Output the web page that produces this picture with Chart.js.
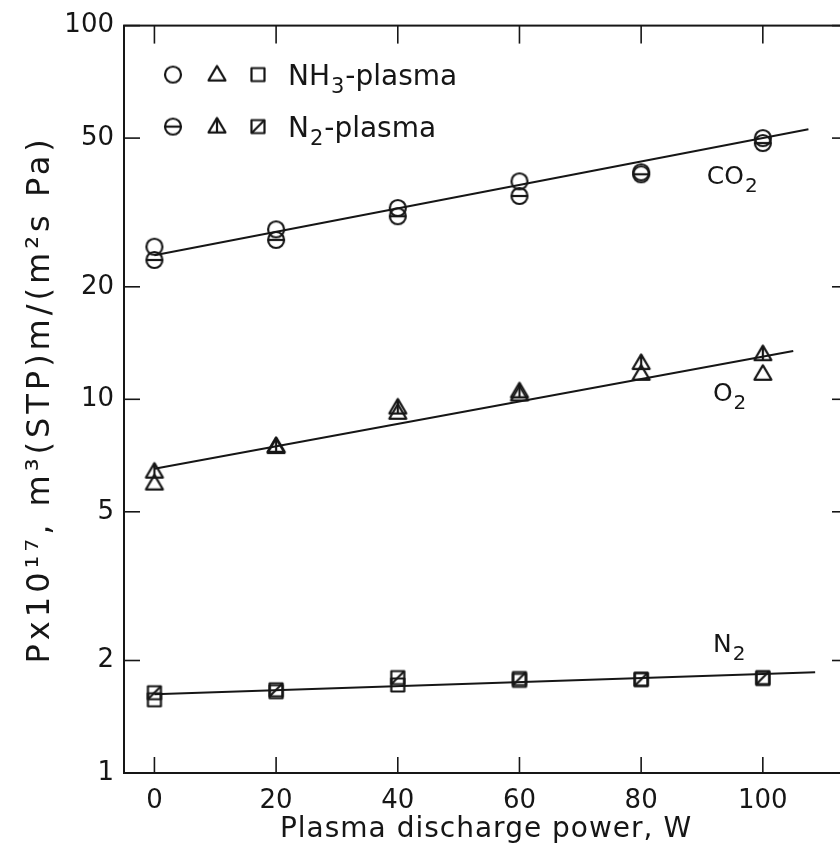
<!DOCTYPE html>
<html><head><meta charset="utf-8">
<script src="https://cdn.jsdelivr.net/npm/chart.js@4.4.0/dist/chart.umd.min.js"></script>
<style>
html,body{margin:0;padding:0;background:#fff;overflow:hidden;width:840px;height:847px}
#wrap{position:relative;width:862px;height:847px}
</style></head><body>
<div id="wrap"><canvas id="c" width="862" height="847"></canvas></div>
<script>
// ---- data ----
const powerW = [0, 20, 40, 60, 80, 100];
const yTickValues = [1, 2, 5, 10, 20, 50, 100];
const co2NH3 = [25.6, 28.5, 32.5, 38.3, 40.5, 50.0];
const co2N2  = [23.6, 26.7, 30.9, 35.0, 40.0, 48.5];
const o2NH3  = [5.95, 7.45, 9.2, 10.3, 11.7, 11.7];
const o2N2   = [6.4, 7.5, 9.5, 10.5, 12.5, 13.2];
const n2NH3  = [1.57, 1.65, 1.72, 1.77, 1.78, 1.79];
const n2N2   = [1.64, 1.67, 1.80, 1.79, 1.78, 1.80];
const co2FitX = [0, 107.5], co2FitY = [24.3, 52.8];
const o2FitX  = [0, 105],   o2FitY  = [6.52, 13.47];
const n2FitX  = [0, 108.6], n2FitY  = [1.625, 1.861];

const INK = '#161616';
const FONT = '"DejaVu Sans", sans-serif';

function marker(shape, mark, size) {
  const s = 26, c = document.createElement('canvas');
  c.width = s; c.height = s;
  const g = c.getContext('2d'), m = s / 2;
  g.strokeStyle = INK; g.lineWidth = 2.2; g.lineJoin = 'round';
  if (shape === 'circle') {
    g.beginPath(); g.arc(m, m, size / 2, 0, 2 * Math.PI); g.stroke();
    if (mark) { g.beginPath(); g.moveTo(m - size / 2, m); g.lineTo(m + size / 2, m); g.stroke(); }
  } else if (shape === 'tri') {
    const h = size * 0.85;
    g.beginPath(); g.moveTo(m, m - h * 0.6); g.lineTo(m + size / 2, m + h * 0.4); g.lineTo(m - size / 2, m + h * 0.4); g.closePath(); g.stroke();
    if (mark) { g.beginPath(); g.moveTo(m, m - h * 0.6); g.lineTo(m, m + h * 0.4); g.stroke(); }
  } else {
    g.strokeRect(m - size / 2, m - size / 2, size, size);
    if (mark) { g.beginPath(); g.moveTo(m - size / 2, m + size / 2); g.lineTo(m + size / 2, m - size / 2); g.stroke(); }
  }
  return c;
}
const mk = {
  cO: marker('circle', false, 16), cN: marker('circle', true, 16),
  tO: marker('tri', false, 17),    tN: marker('tri', true, 17),
  sO: marker('sq', false, 13),     sN: marker('sq', true, 13)
};

const pts = (ys) => powerW.map((x, i) => ({x, y: ys[i]}));
const fit = (xs, ys) => xs.map((x, i) => ({x, y: ys[i]}));

function scatterDs(label, ys, style) {
  return {type: 'scatter', label, data: pts(ys), pointStyle: style, pointRadius: 9, order: 1, showLine: false};
}
function lineDs(label, xs, ys) {
  return {type: 'line', label, data: fit(xs, ys), borderColor: INK, borderWidth: 2, pointRadius: 0, fill: false, order: 5, tension: 0};
}

class SpacedLog extends Chart.LogarithmicScale {
  drawTitle() { const c = this.ctx; c.save(); c.letterSpacing = '4px'; super.drawTitle(); c.restore(); }
}
SpacedLog.id = 'spacedLog';
SpacedLog.defaults = Chart.LogarithmicScale.defaults;
Chart.register(SpacedLog);

class SpacedLinear extends Chart.LinearScale {
  drawTitle() { const c = this.ctx; c.save(); c.letterSpacing = '1px'; super.drawTitle(); c.restore(); }
}
SpacedLinear.id = 'spacedLinear';
SpacedLinear.defaults = Chart.LinearScale.defaults;
Chart.register(SpacedLinear);

const decor = {
  id: 'decor',
  afterDraw(chart) {
    const {ctx, chartArea: a, scales: {x, y}} = chart;
    ctx.save();
    ctx.strokeStyle = INK; ctx.lineWidth = 2;
    ctx.strokeRect(a.left, a.top, a.right - a.left, a.bottom - a.top);
    ctx.lineWidth = 1.6;
    const seg = (x1, y1, x2, y2) => { ctx.beginPath(); ctx.moveTo(x1, y1); ctx.lineTo(x2, y2); ctx.stroke(); };
    yTickValues.forEach(v => { const p = y.getPixelForValue(v); seg(a.left, p, a.left + 16, p); seg(a.right, p, a.right - 16, p); });
    powerW.forEach(v => { const p = x.getPixelForValue(v); seg(p, a.bottom, p, a.bottom - 16); seg(p, a.top, p, a.top + 18); });

    // curve labels
    ctx.fillStyle = INK; ctx.textBaseline = 'alphabetic'; ctx.textAlign = 'left';
    const lab = (main, sub, xv, yv) => {
      const px = x.getPixelForValue(xv), py = y.getPixelForValue(yv);
      ctx.font = '25px ' + FONT; ctx.fillText(main, px, py);
      const w = ctx.measureText(main).width;
      ctx.font = '20px ' + FONT; ctx.fillText(sub, px + w + 1, py + 8);
    };
    lab('CO', '2', 90.8, 37.6);
    lab('O', '2', 91.8, 9.91);
    lab('N', '2', 91.8, 2.104);

    // legend
    const rows = [
      {y: a.top + 49, m: [mk.cO, mk.tO, mk.sO], t: ['NH', '3', '-plasma']},
      {y: a.top + 101, m: [mk.cN, mk.tN, mk.sN], t: ['N', '2', '-plasma']}
    ];
    const mx = [a.left + 49, a.left + 93, a.left + 134];
    rows.forEach(r => {
      r.m.forEach((im, i) => ctx.drawImage(im, mx[i] - im.width / 2, r.y - im.height / 2));
      let tx = a.left + 164;
      ctx.textBaseline = 'alphabetic';
      ctx.font = '28px ' + FONT; ctx.fillText(r.t[0], tx, r.y + 10); tx += ctx.measureText(r.t[0]).width + 1;
      ctx.font = '21px ' + FONT; ctx.fillText(r.t[1], tx, r.y + 18); tx += ctx.measureText(r.t[1]).width + 1;
      ctx.font = '28px ' + FONT; ctx.fillText(r.t[2], tx, r.y + 10);
    });
    ctx.restore();
  }
};

new Chart(document.getElementById('c'), {
  data: {
    datasets: [
      scatterDs('CO2 NH3-plasma', co2NH3, mk.cO),
      scatterDs('CO2 N2-plasma', co2N2, mk.cN),
      scatterDs('O2 NH3-plasma', o2NH3, mk.tO),
      scatterDs('O2 N2-plasma', o2N2, mk.tN),
      scatterDs('N2 NH3-plasma', n2NH3, mk.sO),
      scatterDs('N2 N2-plasma', n2N2, mk.sN),
      lineDs('CO2 fit', co2FitX, co2FitY),
      lineDs('O2 fit', o2FitX, o2FitY),
      lineDs('N2 fit', n2FitX, n2FitY)
    ]
  },
  options: {
    responsive: false, animation: false, devicePixelRatio: 1,
    layout: {padding: {top: 24, right: 14, bottom: 0, left: 0}},
    plugins: {legend: {display: false}, tooltip: {enabled: false}},
    scales: {
      x: {
        type: 'spacedLinear', min: -5, max: 114,
        afterBuildTicks: s => { s.ticks = powerW.map(v => ({value: v})); },
        afterFit: s => { s.height = 74; },
        grid: {display: false, drawTicks: false}, border: {display: false},
        ticks: {padding: 13, color: INK, font: {family: FONT, size: 26}, maxRotation: 0, autoSkip: false},
        title: {display: true, text: 'Plasma discharge power, W', color: INK, font: {family: FONT, size: 28}, padding: {top: 0, bottom: 0}}
      },
      y: {
        type: 'spacedLog', min: 1, max: 100,
        afterBuildTicks: s => { s.ticks = yTickValues.map(v => ({value: v})); },
        afterFit: s => { s.width = 124; },
        grid: {display: false, drawTicks: false}, border: {display: false},
        ticks: {padding: 10, color: INK, font: {family: FONT, size: 26}, callback: v => String(v), autoSkip: false},
        title: {display: true, text: 'Px10¹⁷, m³(STP)m/(m²s Pa)', color: INK, font: {family: FONT, size: 32}, padding: {top: 21, bottom: 0}}
      }
    }
  },
  plugins: [decor]
});
</script>
</body></html>
